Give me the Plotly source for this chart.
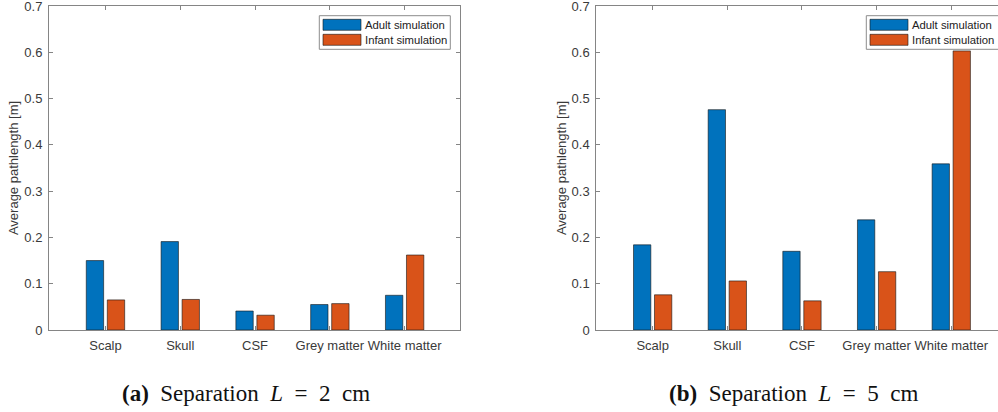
import plotly.graph_objects as go

# ---------------- data ----------------
categories = ["Scalp", "Skull", "CSF", "Grey matter", "White matter"]
adult_2cm = [0.150, 0.191, 0.041, 0.055, 0.075]
infant_2cm = [0.065, 0.066, 0.032, 0.057, 0.162]
adult_5cm = [0.184, 0.476, 0.170, 0.238, 0.359]
infant_5cm = [0.076, 0.106, 0.063, 0.126, 0.603]
y_ticks = [0, 0.1, 0.2, 0.3, 0.4, 0.5, 0.6, 0.7]
y_ticklabels = ["0", "0.1", "0.2", "0.3", "0.4", "0.5", "0.6", "0.7"]
series_names = ["Adult simulation", "Infant simulation"]
captions = [
    "<b>(a)</b>&nbsp;&nbsp;Separation&nbsp;&nbsp;<i>L</i>&nbsp;&nbsp;=&nbsp;&nbsp;2&nbsp;&nbsp;cm",
    "<b>(b)</b>&nbsp;&nbsp;Separation&nbsp;&nbsp;<i>L</i>&nbsp;&nbsp;=&nbsp;&nbsp;5&nbsp;&nbsp;cm",
]
y_title = "Average pathlength [m]"

# ---------------- style ----------------
W, H = 998, 412
ML, MR, MT, MB = 49, 0, 6, 82
PW, PH = W - ML - MR, H - MT - MB
BLUE, ORANGE = "#0072BD", "#D95319"
AXIS = "#858585"
TXT = "#3a3a3a"
SANS = "Liberation Sans, Arial, sans-serif"
SERIF = "Liberation Serif, Times New Roman, serif"


def px(x):
    return (x - ML) / PW


def py(y):
    return (H - MB - y) / PH


fig = go.Figure()
panels = [(adult_2cm, infant_2cm, "x", "y"), (adult_5cm, infant_5cm, "x2", "y2")]
for adult, infant, xa, ya in panels:
    for vals, col, name in ((adult, BLUE, series_names[0]), (infant, ORANGE, series_names[1])):
        fig.add_trace(go.Bar(
            x=categories, y=vals, name=name, xaxis=xa, yaxis=ya, showlegend=False,
            marker=dict(color=col, line=dict(color="rgba(20,20,20,0.75)", width=0.8)),
        ))

axis_common = dict(
    showline=True, linecolor=AXIS, linewidth=1, ticks="inside", ticklen=4,
    tickcolor=AXIS, tickwidth=1, showgrid=False, zeroline=False,
    tickfont=dict(family=SANS, size=13, color=TXT), ticklabeloverflow="allow",
)
ytitle = dict(text=y_title, font=dict(family=SANS, size=13, color=TXT), standoff=2)

fig.update_layout(
    width=W, height=H, margin=dict(l=ML, r=MR, t=MT, b=MB, autoexpand=False),
    paper_bgcolor="white", plot_bgcolor="white",
    barmode="group", bargap=0.438, bargroupgap=0.174,
    xaxis=dict(domain=[0, px(460)], range=[-0.755, 4.74], mirror="ticks",
               type="category", anchor="y", ticklabelstandoff=3, **axis_common),
    yaxis=dict(domain=[0, 1], range=[0, 0.7], tickvals=y_ticks, ticktext=y_ticklabels,
               mirror="ticks", anchor="x", ticklabelstandoff=3, title=ytitle, **axis_common),
    xaxis2=dict(domain=[px(596.3), 1], range=[-0.755, 4.626], mirror="ticks",
                type="category", anchor="y2", ticklabelstandoff=3, **axis_common),
    yaxis2=dict(domain=[0, 1], range=[0, 0.7], tickvals=y_ticks, ticktext=y_ticklabels,
                mirror=False, anchor="x2", ticklabelstandoff=3, title=ytitle, **axis_common),
)

# ---------------- legends (MATLAB style) ----------------
shapes, annotations = [], []
for off, right in ((0, 450.3), (547, 1012)):
    x0 = 319.3 + off
    shapes.append(dict(type="rect", xref="paper", yref="paper",
                       x0=px(x0), x1=px(right), y0=py(49.3), y1=py(15.7),
                       line=dict(color="#8c8c8c", width=1), fillcolor="white", layer="above"))
    for i, (col, name) in enumerate(((BLUE, series_names[0]), (ORANGE, series_names[1]))):
        top = 19.3 + 15 * i
        shapes.append(dict(type="rect", xref="paper", yref="paper",
                           x0=px(x0 + 3.7), x1=px(x0 + 41.7), y0=py(top + 11), y1=py(top),
                           line=dict(color="rgba(20,20,20,0.75)", width=0.8), fillcolor=col,
                           layer="above"))
        annotations.append(dict(text=name, xref="paper", yref="paper", x=px(x0 + 43.5),
                                y=py(top + 5.5), xanchor="left", yanchor="middle",
                                showarrow=False,
                                font=dict(family=SANS, size=11.3, color="#222222")))

for cap, cx in zip(captions, (246, 793)):
    annotations.append(dict(text=cap, xref="paper", yref="paper", x=px(cx), y=py(393),
                            xanchor="center", yanchor="middle", showarrow=False,
                            font=dict(family=SERIF, size=23, color="#111111")))

fig.update_layout(shapes=shapes, annotations=annotations)
fig.write_html("out.html")
